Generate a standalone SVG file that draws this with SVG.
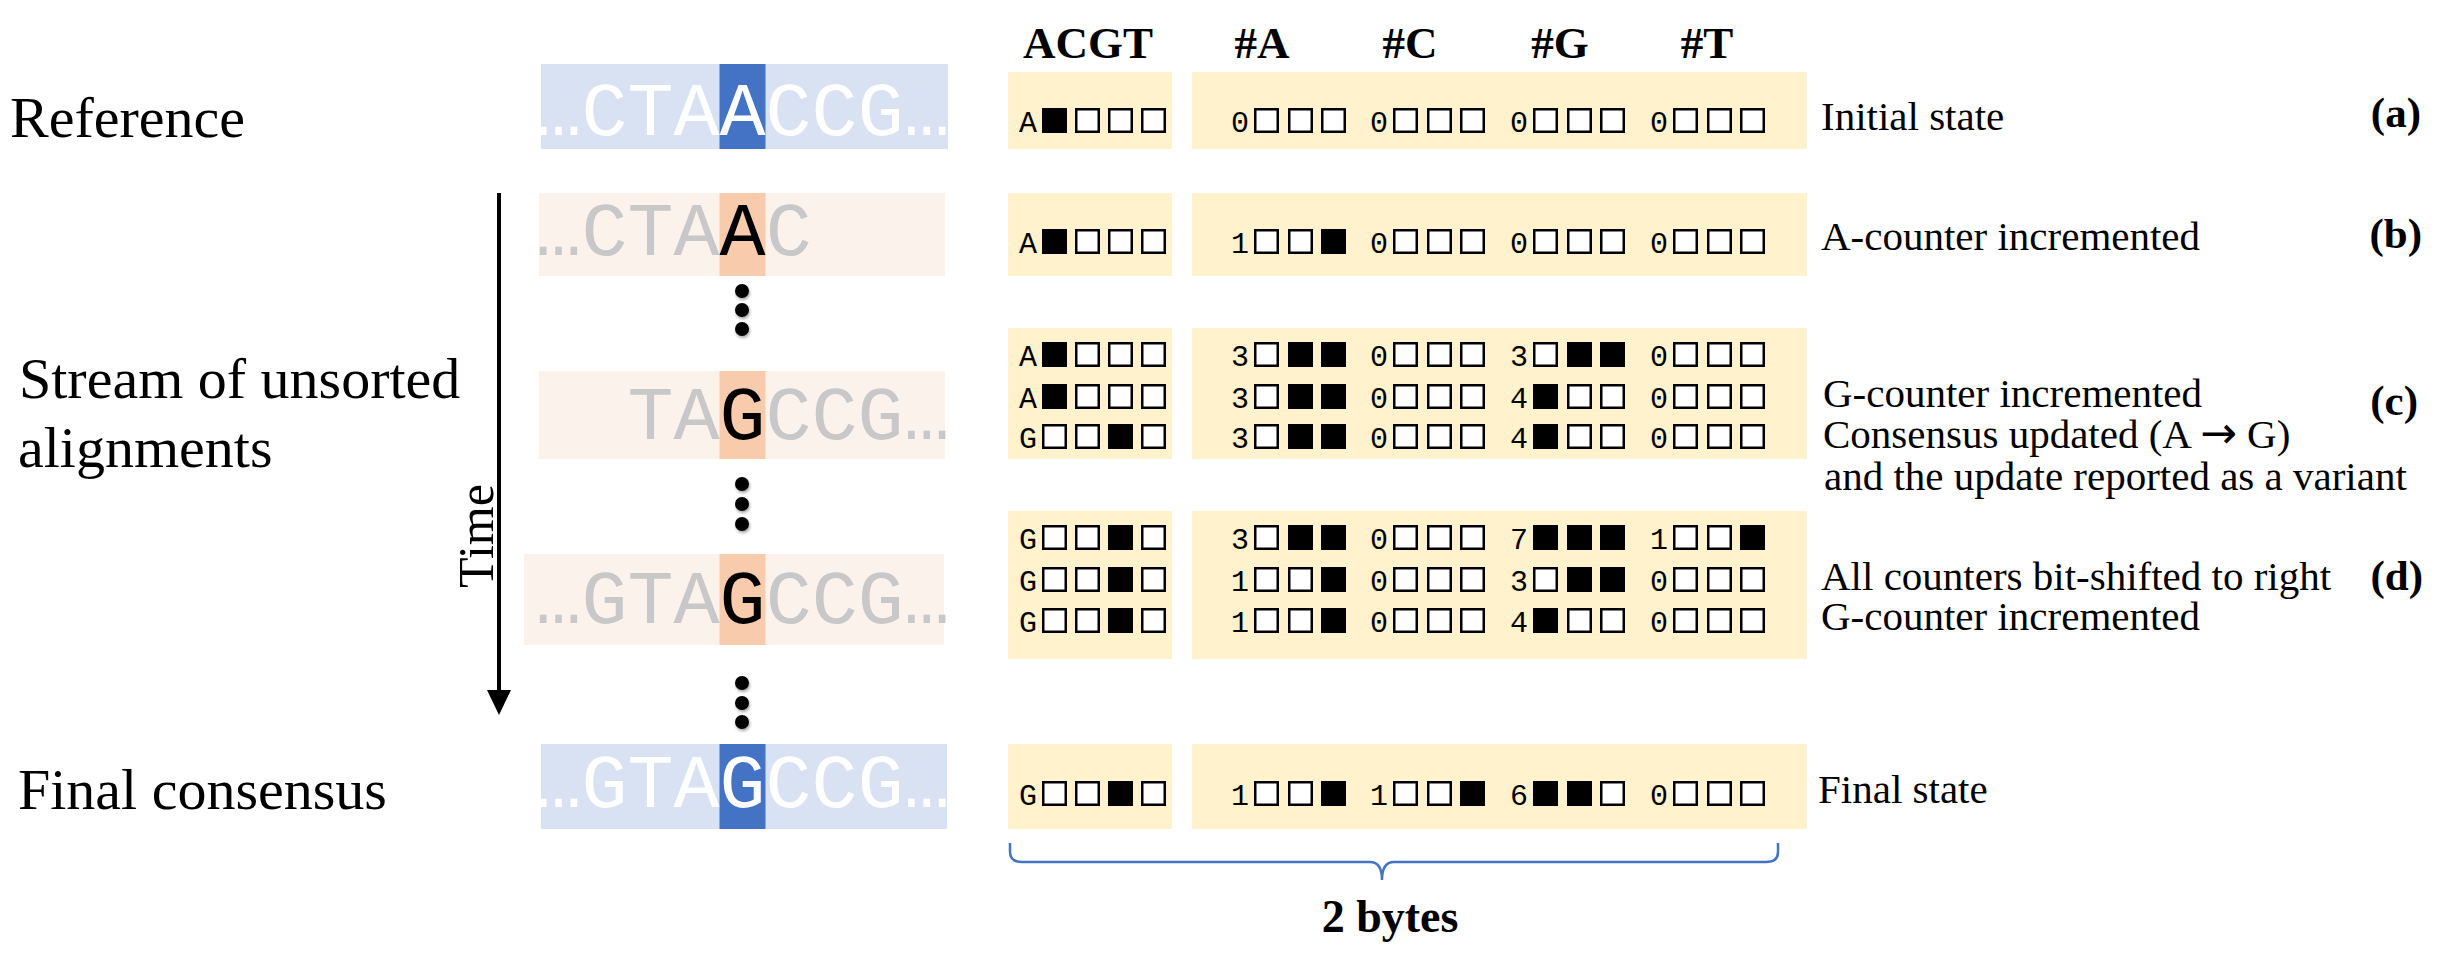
<svg xmlns="http://www.w3.org/2000/svg" xmlns:xlink="http://www.w3.org/1999/xlink" width="2458" height="958" viewBox="0 0 2458 958">
<style>
.lbl{font-family:"Liberation Serif","Times New Roman",serif;font-size:58px;fill:#000}
.desc{font-family:"Liberation Serif","Times New Roman",serif;font-size:41px;fill:#000}
.arr{font-family:"DejaVu Sans",sans-serif;font-size:44px}
.tag{font-family:"Liberation Serif","Times New Roman",serif;font-size:43px;font-weight:bold;fill:#000;text-anchor:end}
.hdr{font-family:"Liberation Serif","Times New Roman",serif;font-size:45px;font-weight:bold;fill:#000;text-anchor:middle}
.seq{font-family:"Liberation Mono","Courier New",monospace;font-size:76.7px}
.bit{font-family:"Liberation Mono","Courier New",monospace;font-size:30px;fill:#000;text-anchor:middle}
.blue{fill:#D9E2F3}.dblue{fill:#4472C4}.org{fill:#FBF2EC}.dorg{fill:#F8CBAD}.yel{fill:#FFF2CC}
.dot{fill:#000;filter:url(#sh)}
</style>
<defs>
<rect id="bf" width="25" height="25" fill="#000"/>
<rect id="be" x="1.25" y="1.25" width="22.5" height="22.5" fill="#fff" stroke="#000" stroke-width="2.5"/>
<filter id="sh" x="-50%" y="-50%" width="200%" height="200%"><feDropShadow dx="1" dy="2" stdDeviation="1.5" flood-color="#000" flood-opacity="0.35"/></filter>
<marker id="ah" viewBox="0 0 25 24" markerWidth="25" markerHeight="24" refX="0" refY="12" orient="auto" markerUnits="userSpaceOnUse"><path d="M0,0 L25,12 L0,24 Z" fill="#000"/></marker>
</defs>
<rect width="2458" height="958" fill="#fff"/>

<!-- left labels -->
<g id="label-reference"><text class="lbl" x="10" y="137">Reference</text></g>
<g id="label-stream"><text class="lbl" x="19" y="398">Stream of unsorted</text><text class="lbl" x="18" y="467">alignments</text></g>
<g id="label-final"><text class="lbl" x="18" y="809">Final consensus</text></g>
<g id="label-time"><text class="lbl" style="font-size:50px" text-anchor="middle" transform="translate(493,536) rotate(-90)">Time</text></g>

<!-- sequences -->
<g id="seq-reference">
<rect class="blue" x="541" y="64" width="407" height="85"/>
<rect class="dblue" x="719.5" y="64" width="46" height="85"/>
<text class="seq" x="535.5" y="135" fill="#fff">…CTAACCG…</text>
</g>
<g id="seq-b">
<rect class="org" x="539" y="193" width="406" height="83"/>
<rect class="dorg" x="719.5" y="193" width="46" height="83"/>
<text class="seq" x="535.5" y="255" fill="#C8C8C8">…CTA<tspan fill="#000">A</tspan>C</text>
</g>
<g id="seq-c">
<rect class="org" x="539" y="371" width="406" height="88"/>
<rect class="dorg" x="719.5" y="371" width="46" height="88"/>
<text class="seq" x="627.5" y="439" fill="#C8C8C8">TA<tspan fill="#000">G</tspan>CCG…</text>
</g>
<g id="seq-d">
<rect class="org" x="524" y="554" width="420" height="91"/>
<rect class="dorg" x="719.5" y="554" width="46" height="91"/>
<text class="seq" x="535.5" y="623" fill="#C8C8C8">…GTA<tspan fill="#000">G</tspan>CCG…</text>
</g>
<g id="seq-final">
<rect class="blue" x="541" y="744" width="406" height="85"/>
<rect class="dblue" x="719.5" y="744" width="46" height="85"/>
<text class="seq" x="535.5" y="807" fill="#fff">…GTAGCCG…</text>
</g>

<!-- vertical ellipses -->
<g id="dots-1"><circle class="dot" cx="742" cy="291" r="7"/><circle class="dot" cx="742" cy="310" r="7"/><circle class="dot" cx="742" cy="329" r="7"/></g>
<g id="dots-2"><circle class="dot" cx="742" cy="484" r="7"/><circle class="dot" cx="742" cy="504" r="7"/><circle class="dot" cx="742" cy="524" r="7"/></g>
<g id="dots-3"><circle class="dot" cx="742" cy="683" r="7"/><circle class="dot" cx="742" cy="703" r="7"/><circle class="dot" cx="742" cy="722" r="7"/></g>

<!-- headers -->
<g id="headers">
<text class="hdr" x="1088" y="58">ACGT</text>
<text class="hdr" x="1262" y="58">#A</text>
<text class="hdr" x="1410" y="58">#C</text>
<text class="hdr" x="1560" y="58">#G</text>
<text class="hdr" x="1707" y="58">#T</text>
</g>

<!-- state a -->
<g id="state-a">
<rect class="yel" x="1008" y="72" width="164" height="77"/>
<rect class="yel" x="1192" y="72" width="615" height="77"/>
<text class="bit" y="132"><tspan x="1028">A</tspan><tspan x="1240">0</tspan><tspan x="1379">0</tspan><tspan x="1519">0</tspan><tspan x="1659">0</tspan></text>
<use href="#bf" x="1042" y="108"/><use href="#be" x="1075" y="108"/><use href="#be" x="1108" y="108"/><use href="#be" x="1141" y="108"/>
<use href="#be" x="1254" y="108"/><use href="#be" x="1288" y="108"/><use href="#be" x="1321" y="108"/>
<use href="#be" x="1393" y="108"/><use href="#be" x="1427" y="108"/><use href="#be" x="1460" y="108"/>
<use href="#be" x="1533" y="108"/><use href="#be" x="1567" y="108"/><use href="#be" x="1600" y="108"/>
<use href="#be" x="1673" y="108"/><use href="#be" x="1707" y="108"/><use href="#be" x="1740" y="108"/>
</g>

<!-- state b -->
<g id="state-b">
<rect class="yel" x="1008" y="193" width="164" height="83"/>
<rect class="yel" x="1192" y="193" width="615" height="83"/>
<text class="bit" y="253"><tspan x="1028">A</tspan><tspan x="1240">1</tspan><tspan x="1379">0</tspan><tspan x="1519">0</tspan><tspan x="1659">0</tspan></text>
<use href="#bf" x="1042" y="229"/><use href="#be" x="1075" y="229"/><use href="#be" x="1108" y="229"/><use href="#be" x="1141" y="229"/>
<use href="#be" x="1254" y="229"/><use href="#be" x="1288" y="229"/><use href="#bf" x="1321" y="229"/>
<use href="#be" x="1393" y="229"/><use href="#be" x="1427" y="229"/><use href="#be" x="1460" y="229"/>
<use href="#be" x="1533" y="229"/><use href="#be" x="1567" y="229"/><use href="#be" x="1600" y="229"/>
<use href="#be" x="1673" y="229"/><use href="#be" x="1707" y="229"/><use href="#be" x="1740" y="229"/>
</g>

<!-- state c -->
<g id="state-c">
<rect class="yel" x="1008" y="328" width="164" height="131"/>
<rect class="yel" x="1192" y="328" width="615" height="131"/>
<text class="bit" y="366"><tspan x="1028">A</tspan><tspan x="1240">3</tspan><tspan x="1379">0</tspan><tspan x="1519">3</tspan><tspan x="1659">0</tspan></text>
<text class="bit" y="408"><tspan x="1028">A</tspan><tspan x="1240">3</tspan><tspan x="1379">0</tspan><tspan x="1519">4</tspan><tspan x="1659">0</tspan></text>
<text class="bit" y="448"><tspan x="1028">G</tspan><tspan x="1240">3</tspan><tspan x="1379">0</tspan><tspan x="1519">4</tspan><tspan x="1659">0</tspan></text>
<use href="#bf" x="1042" y="342"/><use href="#be" x="1075" y="342"/><use href="#be" x="1108" y="342"/><use href="#be" x="1141" y="342"/>
<use href="#be" x="1254" y="342"/><use href="#bf" x="1288" y="342"/><use href="#bf" x="1321" y="342"/>
<use href="#be" x="1393" y="342"/><use href="#be" x="1427" y="342"/><use href="#be" x="1460" y="342"/>
<use href="#be" x="1533" y="342"/><use href="#bf" x="1567" y="342"/><use href="#bf" x="1600" y="342"/>
<use href="#be" x="1673" y="342"/><use href="#be" x="1707" y="342"/><use href="#be" x="1740" y="342"/>
<use href="#bf" x="1042" y="384"/><use href="#be" x="1075" y="384"/><use href="#be" x="1108" y="384"/><use href="#be" x="1141" y="384"/>
<use href="#be" x="1254" y="384"/><use href="#bf" x="1288" y="384"/><use href="#bf" x="1321" y="384"/>
<use href="#be" x="1393" y="384"/><use href="#be" x="1427" y="384"/><use href="#be" x="1460" y="384"/>
<use href="#bf" x="1533" y="384"/><use href="#be" x="1567" y="384"/><use href="#be" x="1600" y="384"/>
<use href="#be" x="1673" y="384"/><use href="#be" x="1707" y="384"/><use href="#be" x="1740" y="384"/>
<use href="#be" x="1042" y="424"/><use href="#be" x="1075" y="424"/><use href="#bf" x="1108" y="424"/><use href="#be" x="1141" y="424"/>
<use href="#be" x="1254" y="424"/><use href="#bf" x="1288" y="424"/><use href="#bf" x="1321" y="424"/>
<use href="#be" x="1393" y="424"/><use href="#be" x="1427" y="424"/><use href="#be" x="1460" y="424"/>
<use href="#bf" x="1533" y="424"/><use href="#be" x="1567" y="424"/><use href="#be" x="1600" y="424"/>
<use href="#be" x="1673" y="424"/><use href="#be" x="1707" y="424"/><use href="#be" x="1740" y="424"/>
</g>

<!-- state d -->
<g id="state-d">
<rect class="yel" x="1008" y="511" width="164" height="148"/>
<rect class="yel" x="1192" y="511" width="615" height="148"/>
<text class="bit" y="549"><tspan x="1028">G</tspan><tspan x="1240">3</tspan><tspan x="1379">0</tspan><tspan x="1519">7</tspan><tspan x="1659">1</tspan></text>
<text class="bit" y="591"><tspan x="1028">G</tspan><tspan x="1240">1</tspan><tspan x="1379">0</tspan><tspan x="1519">3</tspan><tspan x="1659">0</tspan></text>
<text class="bit" y="632"><tspan x="1028">G</tspan><tspan x="1240">1</tspan><tspan x="1379">0</tspan><tspan x="1519">4</tspan><tspan x="1659">0</tspan></text>
<use href="#be" x="1042" y="525"/><use href="#be" x="1075" y="525"/><use href="#bf" x="1108" y="525"/><use href="#be" x="1141" y="525"/>
<use href="#be" x="1254" y="525"/><use href="#bf" x="1288" y="525"/><use href="#bf" x="1321" y="525"/>
<use href="#be" x="1393" y="525"/><use href="#be" x="1427" y="525"/><use href="#be" x="1460" y="525"/>
<use href="#bf" x="1533" y="525"/><use href="#bf" x="1567" y="525"/><use href="#bf" x="1600" y="525"/>
<use href="#be" x="1673" y="525"/><use href="#be" x="1707" y="525"/><use href="#bf" x="1740" y="525"/>
<use href="#be" x="1042" y="567"/><use href="#be" x="1075" y="567"/><use href="#bf" x="1108" y="567"/><use href="#be" x="1141" y="567"/>
<use href="#be" x="1254" y="567"/><use href="#be" x="1288" y="567"/><use href="#bf" x="1321" y="567"/>
<use href="#be" x="1393" y="567"/><use href="#be" x="1427" y="567"/><use href="#be" x="1460" y="567"/>
<use href="#be" x="1533" y="567"/><use href="#bf" x="1567" y="567"/><use href="#bf" x="1600" y="567"/>
<use href="#be" x="1673" y="567"/><use href="#be" x="1707" y="567"/><use href="#be" x="1740" y="567"/>
<use href="#be" x="1042" y="608"/><use href="#be" x="1075" y="608"/><use href="#bf" x="1108" y="608"/><use href="#be" x="1141" y="608"/>
<use href="#be" x="1254" y="608"/><use href="#be" x="1288" y="608"/><use href="#bf" x="1321" y="608"/>
<use href="#be" x="1393" y="608"/><use href="#be" x="1427" y="608"/><use href="#be" x="1460" y="608"/>
<use href="#bf" x="1533" y="608"/><use href="#be" x="1567" y="608"/><use href="#be" x="1600" y="608"/>
<use href="#be" x="1673" y="608"/><use href="#be" x="1707" y="608"/><use href="#be" x="1740" y="608"/>
</g>

<!-- final state -->
<g id="state-final">
<rect class="yel" x="1008" y="744" width="164" height="85"/>
<rect class="yel" x="1192" y="744" width="615" height="85"/>
<text class="bit" y="805"><tspan x="1028">G</tspan><tspan x="1240">1</tspan><tspan x="1379">1</tspan><tspan x="1519">6</tspan><tspan x="1659">0</tspan></text>
<use href="#be" x="1042" y="781"/><use href="#be" x="1075" y="781"/><use href="#bf" x="1108" y="781"/><use href="#be" x="1141" y="781"/>
<use href="#be" x="1254" y="781"/><use href="#be" x="1288" y="781"/><use href="#bf" x="1321" y="781"/>
<use href="#be" x="1393" y="781"/><use href="#be" x="1427" y="781"/><use href="#bf" x="1460" y="781"/>
<use href="#bf" x="1533" y="781"/><use href="#bf" x="1567" y="781"/><use href="#be" x="1600" y="781"/>
<use href="#be" x="1673" y="781"/><use href="#be" x="1707" y="781"/><use href="#be" x="1740" y="781"/>
</g>

<!-- descriptions -->
<g id="desc-a"><text class="desc" x="1821" y="130">Initial state</text><text class="tag" x="2421" y="127">(a)</text></g>
<g id="desc-b"><text class="desc" x="1821" y="250">A-counter incremented</text><text class="tag" x="2422" y="248">(b)</text></g>
<g id="desc-c"><text class="desc" x="1823" y="407">G-counter incremented</text><text class="desc" x="1823" y="448">Consensus updated (A <tspan class="arr">→</tspan> G)</text><text class="desc" x="1824" y="490">and the update reported as a variant</text><text class="tag" x="2418" y="415">(c)</text></g>
<g id="desc-d"><text class="desc" x="1821" y="590">All counters bit-shifted to right</text><text class="desc" x="1821" y="630">G-counter incremented</text><text class="tag" x="2423" y="590">(d)</text></g>
<g id="desc-final"><text class="desc" x="1818" y="803">Final state</text></g>

<!-- brace -->
<g id="brace-2bytes">
<path d="M1010,843 L1010,852 Q1010,862 1022,862 L1370,862 Q1382,862 1382,880 Q1382,862 1394,862 L1766,862 Q1778,862 1778,852 L1778,843" fill="none" stroke="#4472C4" stroke-width="2.5"/>
<text class="hdr" style="font-size:46px" x="1390" y="932">2 bytes</text>
</g>

<!-- connectors -->
<g id="connectors">
<line x1="499" y1="193" x2="499" y2="690" stroke="#000" stroke-width="4" marker-end="url(#ah)"/>
</g>
</svg>
